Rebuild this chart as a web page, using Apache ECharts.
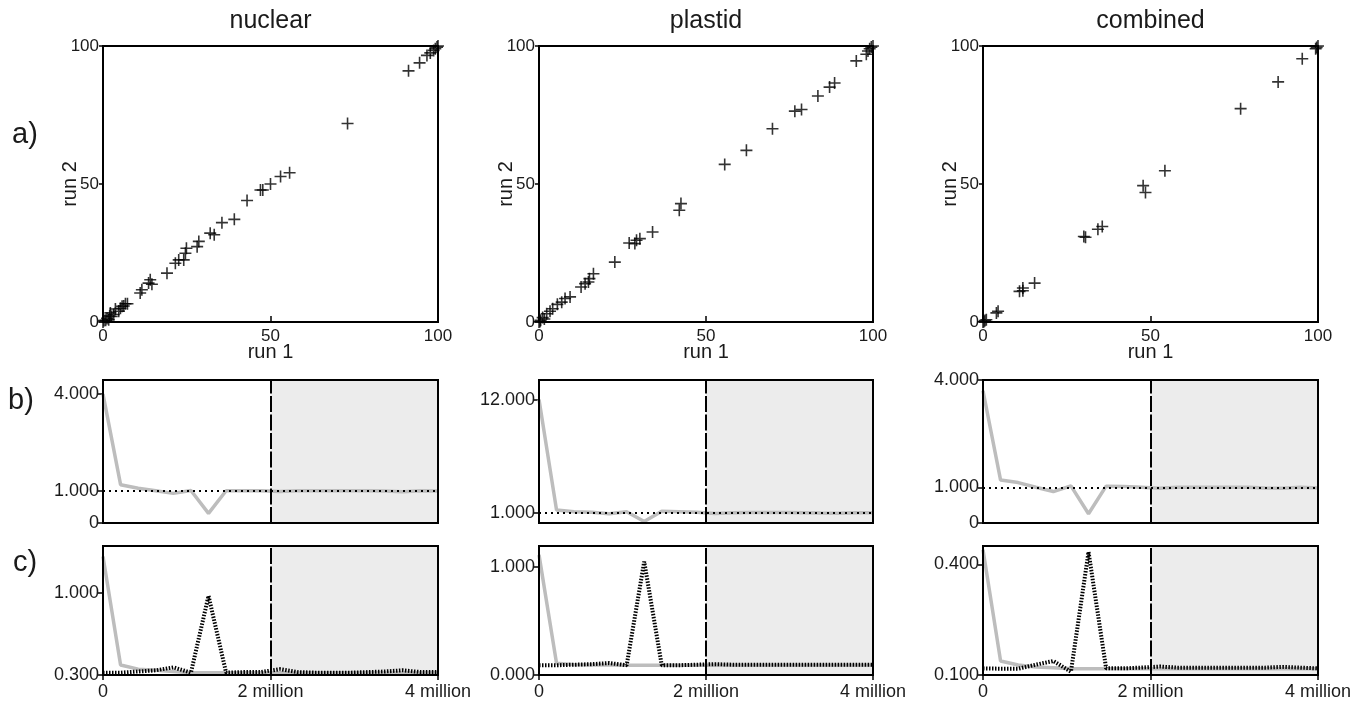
<!DOCTYPE html>
<html>
<head>
<meta charset="utf-8">
<script src="https://cdn.jsdelivr.net/npm/echarts@6/dist/echarts.min.js"></script>
<style>
  html, body { margin: 0; padding: 0; background: #fff; }
  #main { width: 1351px; height: 704px; }
</style>
</head>
<body>
<div id="main"></div>
<script>
// scatter: run 1 vs run 2 (split frequencies, %)
var nuclearRun1 = [0, 0.3, 0.8, 1.2, 1.7, 2.0, 2.2, 2.6, 3.2, 3.7, 4.7, 5.2, 5.7, 6.2, 6.7, 7.3,
  11.1, 11.6, 13.6, 14.6, 14.1, 19.1, 21.6, 22.6, 24.1, 24.6, 24.9, 28.1, 28.6, 32.0, 33.2, 35.5,
  39.2, 43.0, 47.0, 47.7, 50.0, 53.0, 55.7, 73.0, 91.2, 94.5, 96.7, 97.7, 98.7, 99.2, 99.7, 100];
var nuclearRun2 = [0, 0.5, 0.6, 1.3, 0.8, 2.2, 3.3, 2.0, 2.7, 4.7, 3.9, 5.0, 5.7, 5.8, 6.6, 6.6,
  10.5, 11.7, 14.1, 13.7, 15.3, 17.7, 21.3, 22.5, 22.5, 24.9, 26.7, 27.3, 29.2, 32.2, 31.6, 36.0,
  37.2, 44.0, 47.8, 47.8, 50.0, 52.7, 54.1, 71.9, 91.0, 93.9, 96.6, 97.5, 98.4, 99.0, 99.6, 100];

var plastidRun1 = [0, 0.3, 0.5, 1.1, 1.6, 2.3, 3.3, 4.1, 5.5, 6.8, 7.8, 9.3, 12.6, 13.8, 14.8, 15.1,
  16.3, 22.7, 27.0, 28.7, 29.2, 30.2, 34.0, 42.0, 42.5, 55.6, 62.1, 69.9, 76.6, 78.6, 83.5, 87.0,
  88.5, 95.0, 98.0, 98.5, 99.0, 99.5, 100];
var plastidRun2 = [0, 0.2, 0.6, 1.6, 1.1, 3.0, 3.9, 4.8, 6.4, 7.2, 8.5, 9.1, 12.7, 13.9, 14.5, 15.7,
  17.5, 21.7, 28.6, 28.4, 29.6, 30.2, 32.6, 40.5, 42.9, 57.1, 62.2, 70.0, 76.4, 77.0, 81.9, 85.1,
  86.6, 94.6, 97.0, 98.2, 99.0, 99.6, 100];

var combinedRun1 = [0, 0.3, 0.6, 1.0, 4.0, 4.5, 10.9, 11.9, 11.9, 15.4, 30.1, 30.6, 34.3, 35.6,
  47.8, 48.5, 54.3, 76.9, 88.1, 95.3, 99.3, 99.6, 100];
var combinedRun2 = [0, 0.2, 0.5, 0.8, 3.3, 3.9, 11.1, 11.3, 12.3, 14.1, 31.0, 30.7, 33.6, 34.6,
  49.4, 46.9, 54.8, 77.3, 87.0, 95.4, 99.0, 99.5, 100];

// generations sampled
var generations = [0, 210000, 420000, 630000, 840000, 1050000, 1260000, 1470000, 1680000, 1890000,
  2110000, 2320000, 2530000, 2740000, 2950000, 3160000, 3370000, 3580000, 3790000, 4000000];

// b) row
var nuclearB = [4.0, 1.19, 1.08, 1.0, 0.92, 1.01, 0.30, 1.0, 1.0, 1.0, 0.98, 1.0, 1.0, 1.0, 1.0, 1.0, 0.99, 0.97, 1.0, 0.99];
var plastidB = [12.0, 1.26, 1.10, 1.05, 0.90, 1.10, 0.15, 1.15, 1.10, 1.05, 0.92, 1.0, 1.03, 1.03, 1.02, 1.0, 0.97, 0.95, 1.0, 1.0];
var combinedB = [3.7, 1.20, 1.13, 1.0, 0.88, 1.04, 0.26, 1.03, 1.02, 1.0, 0.97, 1.0, 1.0, 1.0, 1.0, 1.0, 0.98, 0.97, 1.0, 0.98];

// c) row, grey solid and black dotted
var nuclearCGrey = [1.31, 0.385, 0.35, 0.34, 0.33, 0.32, 0.32, 0.32, 0.32, 0.32, 0.32, 0.32, 0.32, 0.32, 0.32, 0.32, 0.32, 0.32, 0.32, 0.32];
var nuclearCDots = [0.32, 0.32, 0.33, 0.34, 0.365, 0.32, 0.975, 0.32, 0.325, 0.325, 0.35, 0.325, 0.32, 0.32, 0.32, 0.325, 0.33, 0.34, 0.325, 0.325];
var plastidCGrey = [1.108, 0.108, 0.095, 0.092, 0.092, 0.09, 0.09, 0.09, 0.09, 0.09, 0.09, 0.09, 0.09, 0.09, 0.09, 0.09, 0.09, 0.09, 0.09, 0.09];
var plastidCDots = [0.09, 0.09, 0.095, 0.10, 0.11, 0.09, 1.046, 0.09, 0.09, 0.095, 0.10, 0.095, 0.095, 0.095, 0.095, 0.095, 0.095, 0.095, 0.095, 0.095];
var combinedCGrey = [0.44, 0.138, 0.127, 0.122, 0.12, 0.117, 0.117, 0.117, 0.117, 0.117, 0.117, 0.117, 0.117, 0.117, 0.117, 0.117, 0.117, 0.117, 0.117, 0.117];
var combinedCDots = [0.118, 0.117, 0.117, 0.128, 0.138, 0.109, 0.434, 0.118, 0.118, 0.12, 0.123, 0.12, 0.12, 0.12, 0.12, 0.12, 0.12, 0.122, 0.12, 0.118];

var titles = ['nuclear', 'plastid', 'combined'];
var bTicks = [[0, 1, 4], [0, 1, 12], [0, 1, 4]];
var bRange = [[0, 4.44], [0, 13.9], [0, 4]];
var cTicks = [[0.3, 1.0], [0, 1.0], [0.1, 0.4]];
var cRange = [[0.3, 1.4], [0, 1.19], [0.1, 0.45]];

var FONT = '"Liberation Sans", Arial, Helvetica, sans-serif';
var INK = '#1a1a1a';

var cols = [{left: 103, width: 335}, {left: 539, width: 334}, {left: 983, width: 335}];

function pairs(xs, ys) { return xs.map(function (x, i) { return [x, ys[i]]; }); }

var myChart = echarts.init(document.getElementById('main'));
var grid = [], xAxis = [], yAxis = [], series = [];

function addGrid(col, top, height) {
  grid.push({
    left: col.left, top: top, width: col.width, height: height,
    show: true, z: 10, backgroundColor: 'transparent',
    borderColor: '#000', borderWidth: 2, outerBoundsMode: 'none'
  });
  return grid.length - 1;
}

// a) scatter panels
var scatterX = [nuclearRun1, plastidRun1, combinedRun1];
var scatterY = [nuclearRun2, plastidRun2, combinedRun2];
for (var i = 0; i < 3; i++) {
  var g = addGrid(cols[i], 46, 276);
  xAxis.push({
    gridIndex: g, type: 'value', min: 0, max: 100, interval: 50,
    name: 'run 1', nameLocation: 'middle', nameGap: 20, nameMoveOverlap: false,
    nameTextStyle: {fontFamily: FONT, fontSize: 20, color: INK},
    axisLine: {show: false}, splitLine: {show: false},
    axisTick: {show: true, inside: true, length: 6, lineStyle: {color: '#000', width: 1.5}},
    axisLabel: {fontFamily: FONT, fontSize: 17, color: INK, margin: 6}
  });
  yAxis.push({
    gridIndex: g, type: 'value', min: 0, max: 100, interval: 50,
    name: 'run 2', nameLocation: 'middle', nameGap: 23, nameRotate: 90, nameMoveOverlap: false,
    nameTextStyle: {fontFamily: FONT, fontSize: 20, color: INK},
    axisLine: {show: false}, splitLine: {show: false},
    axisTick: {show: true, inside: false, length: 4, lineStyle: {color: '#000', width: 1.5}},
    axisLabel: {fontFamily: FONT, fontSize: 17, color: INK, margin: 4}
  });
  series.push({
    type: 'scatter', xAxisIndex: g, yAxisIndex: g,
    data: pairs(scatterX[i], scatterY[i]),
    symbol: 'path://M6,0 L6,12 M0,6 L12,6', symbolSize: 12,
    itemStyle: {color: 'none', borderColor: '#000', borderWidth: 1.6},
    clip: false, silent: true
  });
}

function seriesAxes(g, range, ticks, fmt, showX) {
  xAxis.push({
    gridIndex: g, type: 'value', min: 0, max: 4000000, interval: 2000000,
    axisLine: {show: false}, splitLine: {show: false},
    axisTick: {show: showX, inside: false, length: 5, lineStyle: {color: '#000', width: 1.5}},
    axisLabel: {
      show: showX, fontFamily: FONT, fontSize: 18, color: INK, margin: 8,
      formatter: function (v) { return v === 0 ? '0' : (v / 1000000) + ' million'; }
    }
  });
  yAxis.push({
    gridIndex: g, type: 'value', min: range[0], max: range[1],
    axisLine: {show: false}, splitLine: {show: false},
    axisTick: {show: true, inside: false, length: 5, customValues: ticks, lineStyle: {color: '#000', width: 1.5}},
    axisLabel: {fontFamily: FONT, fontSize: 18, color: INK, margin: 4, customValues: ticks, formatter: fmt}
  });
}

var shade = {
  silent: true, itemStyle: {color: '#ececec'},
  data: [[{xAxis: 2000000}, {xAxis: 4000000}]]
};
var midLine = {xAxis: 2000000, lineStyle: {color: '#000', width: 2, type: [16, 2.5]}};

// b) row
var bData = [nuclearB, plastidB, combinedB];
for (var i = 0; i < 3; i++) {
  var g = addGrid(cols[i], 380, 143);
  seriesAxes(g, bRange[i], bTicks[i], function (v) { return v === 0 ? '0' : v.toFixed(3); }, false);
  series.push({
    type: 'line', xAxisIndex: g, yAxisIndex: g, data: pairs(generations, bData[i]),
    showSymbol: false, silent: true,
    lineStyle: {color: '#bdbdbd', width: 3.5},
    markArea: shade,
    markLine: {
      silent: true, symbol: ['none', 'none'], label: {show: false},
      data: [
        {yAxis: 1, lineStyle: {color: '#000', width: 2, type: [2, 4]}},
        midLine
      ]
    }
  });
}

// c) row
var cGrey = [nuclearCGrey, plastidCGrey, combinedCGrey];
var cDots = [nuclearCDots, plastidCDots, combinedCDots];
for (var i = 0; i < 3; i++) {
  var g = addGrid(cols[i], 546, 129);
  seriesAxes(g, cRange[i], cTicks[i], function (v) { return v.toFixed(3); }, true);
  series.push({
    type: 'line', xAxisIndex: g, yAxisIndex: g, data: pairs(generations, cGrey[i]),
    showSymbol: false, silent: true,
    lineStyle: {color: '#bdbdbd', width: 3.5},
    markArea: shade,
    markLine: {silent: true, symbol: ['none', 'none'], label: {show: false}, data: [midLine]}
  });
  series.push({
    type: 'line', xAxisIndex: g, yAxisIndex: g, data: pairs(generations, cDots[i]),
    showSymbol: false, silent: true, z: 3,
    lineStyle: {color: '#000', width: 4, type: [1.5, 1.5]}
  });
}

var graphic = [];
titles.forEach(function (t, i) {
  graphic.push({
    type: 'text', x: cols[i].left + cols[i].width / 2, y: 21,
    style: {text: t, font: '25px ' + FONT, fill: INK, textAlign: 'center', textVerticalAlign: 'middle'}
  });
});
[['a)', 25, 135], ['b)', 21, 401], ['c)', 25, 563]].forEach(function (r) {
  graphic.push({
    type: 'text', x: r[1], y: r[2],
    style: {text: r[0], font: '29px ' + FONT, fill: INK, textAlign: 'center', textVerticalAlign: 'middle'}
  });
});

myChart.setOption({
  animation: false,
  backgroundColor: '#fff',
  grid: grid,
  xAxis: xAxis,
  yAxis: yAxis,
  series: series,
  graphic: graphic
});
window.onresize = myChart.resize;
</script>
</body>
</html>
